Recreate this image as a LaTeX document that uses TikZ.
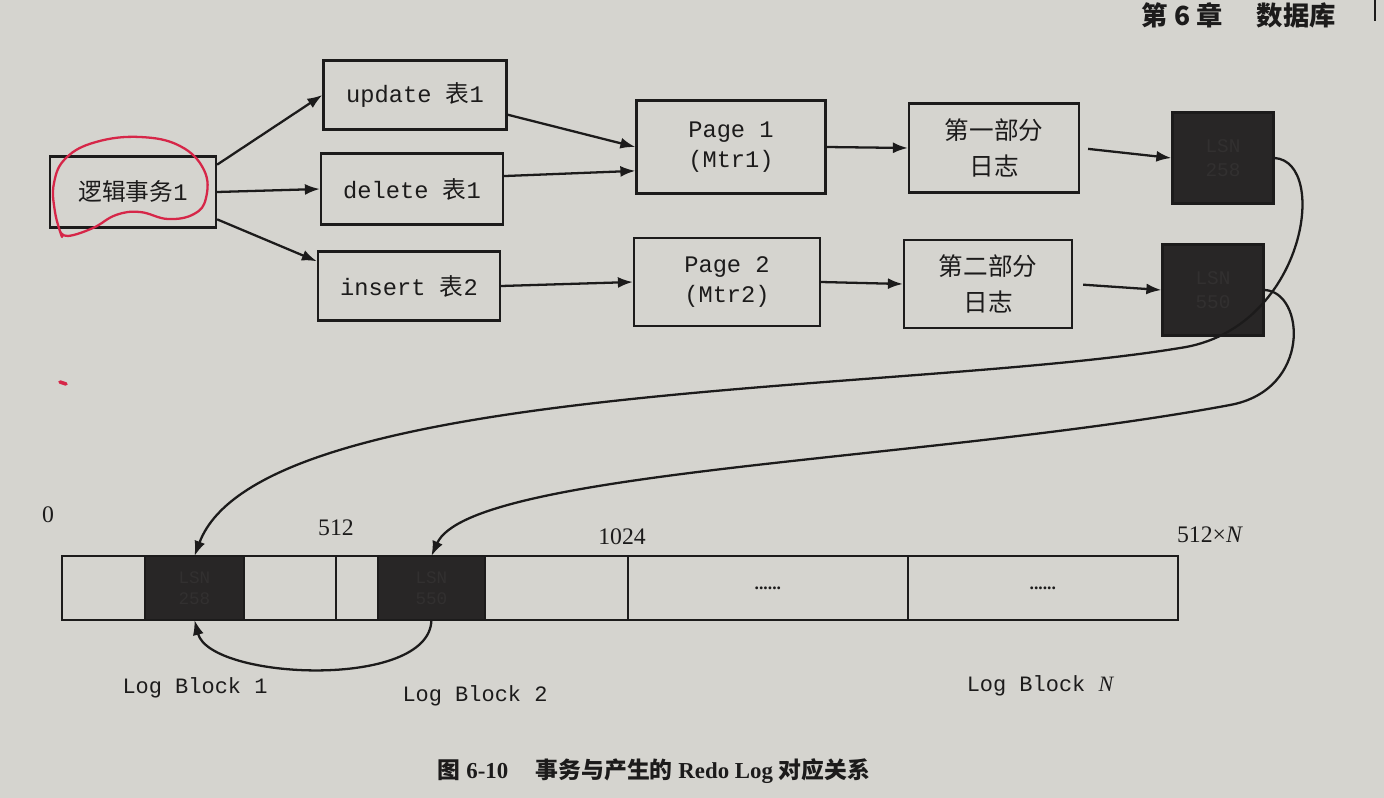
\documentclass[tikz,border=0pt]{standalone}
\usepackage{fontspec}
\setmainfont{Liberation Serif}
\setmonofont{Liberation Mono}
\newfontfamily\cjk{Noto Sans CJK SC}
\usetikzlibrary{arrows.meta,positioning,calc}
\definecolor{paper}{RGB}{213,212,207}
\definecolor{ink}{RGB}{28,27,27}
\definecolor{lsnfill}{RGB}{40,38,38}
\definecolor{lsntext}{RGB}{50,48,48}
\definecolor{redpen}{RGB}{214,38,72}

\begin{document}
\begin{tikzpicture}[x=0.02cm,y=-0.02cm,>={Latex[length=3mm,width=2.2mm]},
  every node/.style={align=center,text=ink},
  stepbox/.style={draw=ink,line width=1.3pt,fill=paper,inner sep=0pt,font=\fontsize{13.5}{17}\selectfont\ttfamily},
  lsnbox/.style={draw=ink,line width=1.3pt,fill=lsnfill,text=lsntext,inner sep=0pt,minimum width=2.02cm,minimum height=1.82cm,font=\fontsize{11}{14}\selectfont\ttfamily},
  cell/.style={draw=ink,line width=1.3pt,fill=paper,minimum height=1.28cm,inner sep=0pt,outer sep=0pt},
  offset/.style={font=\fontsize{13.5}{15}\selectfont},
  blocklabel/.style={font=\fontsize{12.5}{15}\selectfont\ttfamily},
  link/.style={->,line width=1.3pt,draw=ink}]
  \useasboundingbox[fill=paper] (0,0) rectangle (1384,798);

  % page header
  \node[anchor=north east,inner sep=1pt,font=\fontsize{15}{17}\selectfont\cjk\bfseries] (head) at (1338,1) {第 6 章\hspace{1.3em}数据库};
  \draw[line width=1.6pt,ink] (1375,0) -- (1375,21);

  % transaction and its statements
  \node[stepbox,minimum width=3.32cm,minimum height=1.42cm] (trans) at (133,192) {{\cjk 逻辑事务}1};
  \node[stepbox,minimum width=3.66cm,minimum height=1.38cm] (upd) at (415,95) {update {\cjk 表}1};
  \node[stepbox,minimum width=3.64cm,minimum height=1.42cm] (del) at (412,189) {delete {\cjk 表}1};
  \node[stepbox,minimum width=3.64cm,minimum height=1.38cm] (ins) at (409,286) {insert {\cjk 表}2};

  % pages and mini transactions
  \node[stepbox,minimum width=3.78cm,minimum height=1.86cm] (pg1) at (731,147) {Page 1\\(Mtr1)};
  \node[stepbox,minimum width=3.72cm,minimum height=1.76cm] (pg2) at (727,282) {Page 2\\(Mtr2)};

  % log parts
  \node[stepbox,minimum width=3.40cm,minimum height=1.78cm,font=\fontsize{14}{20}\selectfont\cjk] (part1) at (994,148) {第一部分\\日志};
  \node[stepbox,minimum width=3.36cm,minimum height=1.76cm,font=\fontsize{14}{20}\selectfont\cjk] (part2) at (988,284) {第二部分\\日志};

  \node[lsnbox] (lsn1) at (1223,158) {LSN\\258};
  \node[lsnbox] (lsn2) at (1213,290) {LSN\\550};

  \draw[link] (trans.18) -- (upd.west);
  \draw[link] (trans.east) -- (del.west);
  \draw[link] (trans.-18) -- (ins.165);
  \draw[link] (upd.-12) -- (pg1.west);
  \draw[link] (del.8) -- (pg1.-166);
  \draw[link] (ins.east) -- (pg2.west);
  \draw[link] (pg1.east) -- (part1.west);
  \draw[link] (pg2.east) -- (part2.west);
  \draw[link,shorten <=0.16cm] (part1.east) -- (lsn1.west);
  \draw[link,shorten <=0.2cm] (part2.east) -- (lsn2.west);

  % redo log file made of 512 byte blocks
  \node[cell,minimum width=1.66cm,anchor=west] (c1) at (62,588) {};
  \node[cell,minimum width=1.98cm,right=0pt of c1,fill=lsnfill,text=lsntext,font=\fontsize{10}{12}\selectfont\ttfamily] (b1) {LSN\\258};
  \node[cell,minimum width=1.84cm,right=0pt of b1] (c3) {};
  \node[cell,minimum width=0.84cm,right=0pt of c3] (c4) {};
  \node[cell,minimum width=2.14cm,right=0pt of c4,fill=lsnfill,text=lsntext,font=\fontsize{10}{12}\selectfont\ttfamily] (b2) {LSN\\550};
  \node[cell,minimum width=2.86cm,right=0pt of b2] (c6) {};
  \node[cell,minimum width=5.60cm,right=0pt of c6] (c7) {\textbf{......}};
  \node[cell,minimum width=5.40cm,right=0pt of c7] (c8) {\textbf{......}};

  \node[offset] (off0) at (48,515) {0};
  \node[offset] (off1) at (336,528) {512};
  \node[offset] (off2) at (622,537) {1024};
  \node[offset] (offn) at (1210,535) {512×\textit{N}};

  \node[blocklabel] (lb1) at (195,688) {Log Block 1};
  \node[blocklabel] (lb2) at (475,696) {Log Block 2};
  \node[blocklabel] (lbn) at (1040,686) {Log Block {\rmfamily\itshape N}};

  % where the two parts land
  \draw[link] (lsn1.east) .. controls (1330,162) and (1305,330) .. (1180,348)
    .. controls (900,394) and (260,380) .. (b1.north);
  \draw[link] (lsn2.east) .. controls (1305,292) and (1312,390) .. (1230,405)
    .. controls (930,461) and (470,470) .. (b2.north);
  \draw[link] (b2.south) .. controls (430,690) and (210,680) .. (b1.south);

  % red pen marks
  \draw[redpen,line width=1.3pt,line cap=round] plot[smooth,tension=0.7] coordinates
    {(62,237) (55,212) (54,183) (66,158) (96,142) (140,137) (180,146) (204,170) (206,198) (194,214) (168,219) (140,212) (116,215) (93,228) (68,236) (60,231)};
  \draw[redpen,line width=2pt,line cap=round] (60,382) -- (66,384);

  \node[font=\fontsize{13}{16}\selectfont\bfseries] (cap) at (654,771) {{\cjk 图} 6-10\hspace{1.2em}{\cjk 事务与产生的} Redo Log {\cjk 对应关系}};
\end{tikzpicture}
\end{document}
